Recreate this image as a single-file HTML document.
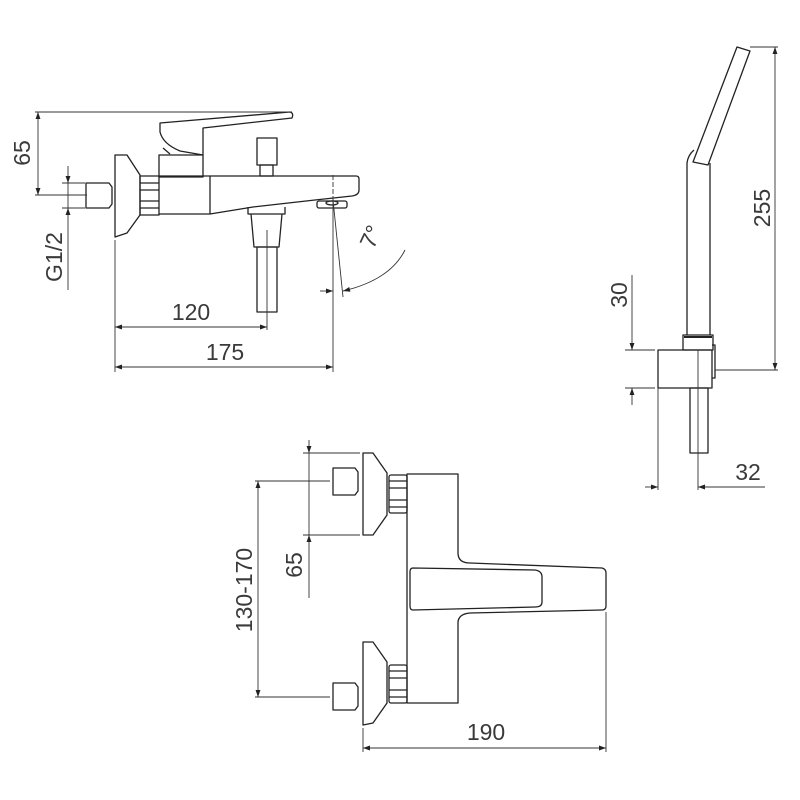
<!DOCTYPE html>
<html><head><style>html,body{margin:0;padding:0;background:#fff}svg{display:block}
text{font-family:"Liberation Sans",sans-serif;font-size:23px;fill:#3a3a3a}</style></head><body>
<svg width="800" height="800" viewBox="0 0 800 800" xmlns="http://www.w3.org/2000/svg">
<defs>
<marker id="a" viewBox="0 0 10 10" refX="10" refY="5" markerWidth="9" markerHeight="7" orient="auto-start-reverse" markerUnits="userSpaceOnUse"><path d="M0,1.5 L10,5 L0,8.5z" fill="#222"/></marker>
</defs>
<g fill="none" stroke="#222" stroke-width="1.3" stroke-linejoin="round">
<path d="M160,123 L290,112 Q294,113 292,118 L203,128 L203,155 L180,151 Q163,144 160,132 Z"/>
<path d="M163,148 L170,154"/>
<rect x="159" y="155" width="44" height="22"/>
<path d="M115,155 L127,155 L140,175 L140,215 L127,233 L115,237 Z"/>
<rect x="140" y="176" width="19" height="39"/>
<path d="M140,183 H159 M140,190 H159 M140,201 H159 M140,208 H159"/>
<path d="M86,183 H109 L112,187 V204 L109,208 H86 Z"/>
<path d="M159,176 H356 Q359,176 359,179 V190 Q359,195 352,196 L315,200 L253,207 L210,214 H159"/>
<path d="M210,176 V214"/>
<rect x="317" y="201" width="30" height="7" rx="2"/>
<ellipse cx="332" cy="203" rx="6" ry="2"/>
<rect x="257" y="138" width="20" height="27"/>
<rect x="260" y="165" width="13" height="11"/>
<path d="M248,207 V214 H285 V207"/>
<path d="M251,214 L254,247 H279 L282,214"/>
<rect x="257" y="247" width="20" height="65"/>
<path d="M737,47 L750,51 L708,165 L693,162 Z"/>
<path d="M687,335 V163 Q688,155 694,150"/>
<path d="M710,335 V163"/>
<rect x="683" y="335" width="30" height="15"/>
<path d="M684,337 H712" stroke-width="2"/>
<rect x="658" y="350" width="54" height="38"/>
<path d="M712,345 H715 V378 H712"/>
<rect x="690" y="388" width="18" height="65"/>
<path d="M363,453 L373,453 L387,473 L387,515 L373,535 L363,535 Z"/>
<path d="M333,468 H355 L358,472 V491 L355,495 H333 Z"/>
<rect x="389" y="475" width="18" height="38" rx="2"/>
<path d="M389,481 H407 M389,488 H407 M389,500 H407 M389,507 H407"/>
<path d="M363,642 L373,642 L387,662 L387,703 L373,723 L363,725 Z"/>
<path d="M333,683 H355 L358,687 V706 L355,710 H333 Z"/>
<rect x="389" y="665" width="18" height="38" rx="2"/>
<path d="M389,671 H407 M389,678 H407 M389,690 H407 M389,697 H407"/>
<path d="M407,474 H458 V553 Q458,563 470,563 L602,568 Q606,569 606,573 V606 Q606,610 602,610 L470,613 Q458,614 458,623 V703 H407 Z"/>
<path d="M413,568 L535,570 Q542,571 542,577 V602 Q542,607 535,607 L413,610 Q410,610 410,606 V572 Q410,568 413,568 Z"/>
</g>
<g fill="none" stroke="#333" stroke-width="0.9">
<path d="M35,112 H292 M35,195 H87"/>
<path d="M38,112 V195" marker-start="url(#a)" marker-end="url(#a)"/>
<path d="M62,183 H85 M62,208 H85"/>
<path d="M68,166 V183" marker-end="url(#a)"/>
<path d="M68,290 V208" marker-end="url(#a)"/>
<path d="M68,183 V208"/>
<path d="M115,240 V372 M267,230 V330"/>
<path d="M115,327 H267" marker-start="url(#a)" marker-end="url(#a)"/>
<path d="M115,367 H333" marker-start="url(#a)" marker-end="url(#a)"/>
<path d="M333,175 V200" stroke-dasharray="5,2"/>
<path d="M333,200 V372"/>
<path d="M333,200 L343,297"/>
<path d="M320,291 H333" marker-end="url(#a)"/>
<path d="M405,250 Q390,280 343,291" marker-end="url(#a)"/>
<path d="M750,47 H778 M715,370 H778"/>
<path d="M775,47 V370" marker-start="url(#a)" marker-end="url(#a)"/>
<path d="M625,350 H655 M625,388 H655"/>
<path d="M632,275 V350" marker-end="url(#a)"/>
<path d="M632,405 V388" marker-end="url(#a)"/>
<path d="M658,388 V490 M698,350 V490"/>
<path d="M645,487 H658" marker-end="url(#a)"/>
<path d="M765,487 H698" marker-end="url(#a)"/>
<path d="M303,453 H360 M303,535 H360"/>
<path d="M309,440 V453" marker-end="url(#a)"/>
<path d="M309,598 V535" marker-end="url(#a)"/>
<path d="M309,453 V535"/>
<path d="M255,481 H330 M255,697 H330"/>
<path d="M258,481 V697" marker-start="url(#a)" marker-end="url(#a)"/>
<path d="M363,728 V752 M606,612 V752"/>
<path d="M363,748 H606" marker-start="url(#a)" marker-end="url(#a)"/>
</g>
<text transform="translate(30,153) rotate(-90)" text-anchor="middle">65</text>
<text transform="translate(62,257) rotate(-90)" text-anchor="middle">G1/2</text>
<text x="191" y="320" text-anchor="middle">120</text>
<text x="225" y="360" text-anchor="middle">175</text>
<text transform="translate(378,240) rotate(-65)" text-anchor="middle">7°</text>
<text transform="translate(770,208) rotate(-90)" text-anchor="middle">255</text>
<text transform="translate(627,295) rotate(-90)" text-anchor="middle">30</text>
<text x="748" y="480" text-anchor="middle">32</text>
<text transform="translate(302,565) rotate(-90)" text-anchor="middle">65</text>
<text transform="translate(252,590) rotate(-90)" text-anchor="middle">130-170</text>
<text x="486" y="740" text-anchor="middle">190</text>
</svg>
</body></html>
